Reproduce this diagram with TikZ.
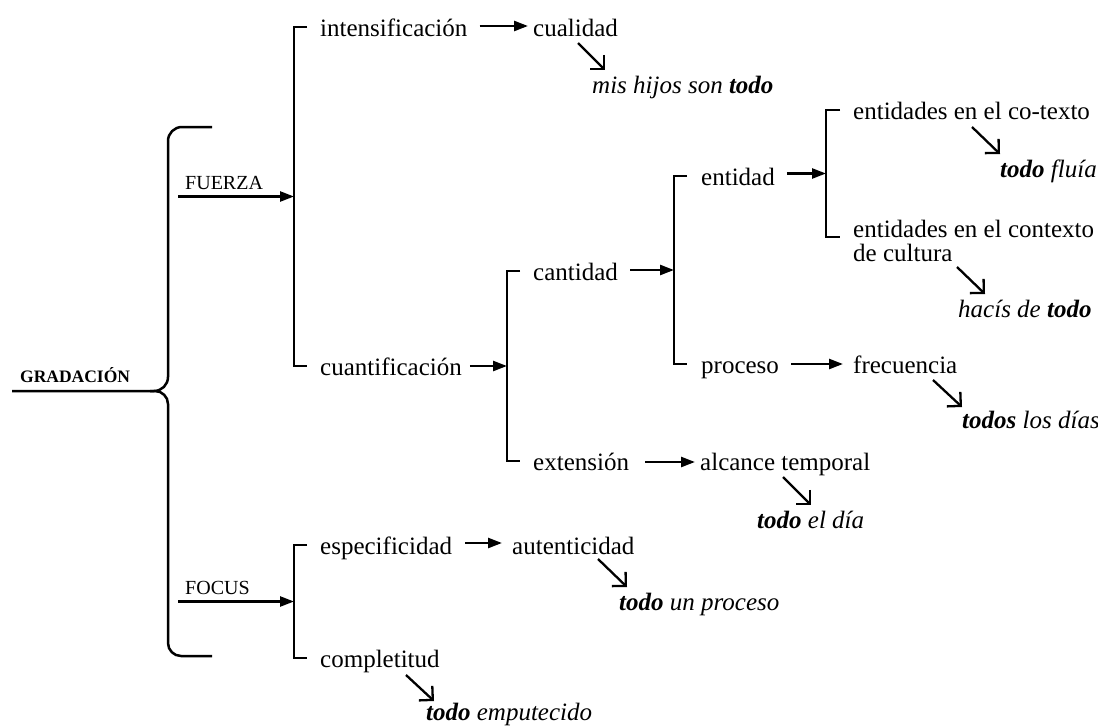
\documentclass[tikz,border=0pt]{standalone}
\usepackage{fontspec}
\setmainfont{Liberation Serif}
\usepackage{tikz}
\usetikzlibrary{arrows.meta,calc}

\tikzset{
    term/.style={anchor=base west, inner sep=0pt, font=\fontsize{25}{24}\selectfont},
    example/.style={term, font=\fontsize{25}{24}\selectfont\itshape},
    system/.style={anchor=base west, inner sep=0pt, font=\fontsize{20}{20}\selectfont},
    bracketline/.style={line width=2.5pt},
    arrowline/.style={line width=2.5pt, -{Triangle[length=14pt,width=10pt]}},
    diagline/.style={line width=2.3pt, line join=miter, -{Straight Barb[angle=90:14pt]}}
}

\begin{document}
\begin{tikzpicture}[x=1pt, y=-1pt]

\useasboundingbox (0,0) rectangle (1098,728);

% Root and main brace
\node[system, font=\fontsize{17.5}{18}\selectfont\bfseries] (gradacion) at (20,382) {GRADACIÓN};
\coordinate (braceTip) at (12,391);
\draw[bracketline, rounded corners=14pt] (212,127) -- (168,127) -- (168,391) -- (braceTip);
\draw[bracketline, rounded corners=13pt] (150,391) -- (168,391) -- (168,656) -- (212,656);

% Systems
\node[system] (fuerzaLbl) at (185,189) {FUERZA};
\node[system] (focusLbl) at (185,594) {FOCUS};

% Terms
\node[term] (intens) at (320,36) {intensificación};
\node[term] (cuant) at (320,375) {cuantificación};
\node[term] (cual) at (533,36) {cualidad};
\node[term] (cant) at (533,280) {cantidad};
\node[term] (ext) at (533,470) {extensión};
\node[term] (alc) at (700,470) {alcance temporal};
\node[term] (entidad) at (701,185) {entidad};
\node[term] (proceso) at (701,373) {proceso};
\node[term] (cotexto) at (853,119) {entidades en el co-texto};
\node[term, align=left] (contexto) at (853,261) {entidades en el contexto\\de cultura};
\node[term] (frec) at (853,373) {frecuencia};
\node[term] (espec) at (320,554) {especificidad};
\node[term] (autent) at (512,554) {autenticidad};
\node[term] (complet) at (320,667) {completitud};

% Examples
\node[example] (misHijos) at (592,93) {mis hijos son \textbf{todo}};
\node[example] (fluia) at (1000,177) {\textbf{todo} fluía};
\node[example] (hacis) at (958,317) {hacís de \textbf{todo}};
\node[example] (dias) at (962,428) {\textbf{todos} los días};
\node[example] (todoDia) at (757,528) {\textbf{todo} el día};
\node[example] (unProceso) at (619,610) {\textbf{todo} un proceso};
\node[example] (emput) at (426,720) {\textbf{todo} emputecido};

% Brackets
\coordinate (b1top) at ([shift={(-26,-9)}]intens.base west);
\coordinate (b1bot) at ([shift={(-26,-9)}]cuant.base west);
\draw[bracketline] ([shift={(-13,-9)}]intens.base west) -- (b1top) -- (b1bot) -- ([shift={(-13,-9)}]cuant.base west);
\coordinate (b1mid) at ($(b1top)!.5!(b1bot)$);

\coordinate (b2top) at ([shift={(-26,-9)}]cant.base west);
\coordinate (b2bot) at ([shift={(-26,-9)}]ext.base west);
\draw[bracketline] ([shift={(-13,-9)}]cant.base west) -- (b2top) -- (b2bot) -- ([shift={(-13,-9)}]ext.base west);
\coordinate (b2mid) at ($(b2top)!.5!(b2bot)$);

\coordinate (b3top) at ([shift={(-27,-9)}]entidad.base west);
\coordinate (b3bot) at ([shift={(-27,-9)}]proceso.base west);
\draw[bracketline] ([shift={(-14,-9)}]entidad.base west) -- (b3top) -- (b3bot) -- ([shift={(-14,-9)}]proceso.base west);
\coordinate (b3mid) at ($(b3top)!.5!(b3bot)$);

\coordinate (b4top) at ([shift={(-27,-9)}]cotexto.base west);
\coordinate (b4bot) at ([shift={(-27,-24)}]contexto.base west);
\draw[bracketline] ([shift={(-13,-9)}]cotexto.base west) -- (b4top) -- (b4bot) -- ([shift={(-13,-24)}]contexto.base west);
\coordinate (b4mid) at ($(b4top)!.5!(b4bot)$);

\coordinate (b5top) at ([shift={(-26,-9)}]espec.base west);
\coordinate (b5bot) at ([shift={(-26,-9)}]complet.base west);
\draw[bracketline] ([shift={(-13,-9)}]espec.base west) -- (b5top) -- (b5bot) -- ([shift={(-13,-9)}]complet.base west);
\coordinate (b5mid) at ($(b5top)!.5!(b5bot)$);

% Arrows between levels
\coordinate (fuerzaTail) at (178,196);
\coordinate (focusTail) at (178,601);
\draw[arrowline] (fuerzaTail |- b1mid) -- (b1mid);
\draw[arrowline] (focusTail |- b5mid) -- (b5mid);
\draw[arrowline] ([shift={(12,-10)}]intens.base east) -- ([shift={(-5,-10)}]cual.base west);
\draw[arrowline] ([xshift=8pt]cuant.base east |- b2mid) -- (b2mid);
\draw[arrowline] ([xshift=12pt]cant.base east |- b3mid) -- (b3mid);
\draw[arrowline] ([xshift=12pt]entidad.base east |- b4mid) -- (b4mid);
\draw[arrowline] ([shift={(16,-8)}]ext.base east) -- ([shift={(-5,-8)}]alc.base west);
\draw[arrowline] ([shift={(12,-9)}]proceso.base east) -- ([shift={(-10,-9)}]frec.base west);
\draw[arrowline] ([shift={(13,-11)}]espec.base east) -- ([shift={(-10,-11)}]autent.base west);

% Arrows to examples
\draw[diagline] ([shift={(45,7)}]cual.base west) -- ([shift={(13,-23)}]misHijos.base west);
\draw[diagline] ([shift={(119,8)}]cotexto.base west) -- ([shift={(0,-23)}]fluia.base west);
\draw[diagline] ([shift={(104,6)}]contexto.base west) -- ([shift={(27,-23)}]hacis.base west);
\draw[diagline] ([shift={(80,7)}]frec.base west) -- ([shift={(0,-21)}]dias.base west);
\draw[diagline] ([shift={(83,7)}]alc.base west) -- ([shift={(54,-23)}]todoDia.base west);
\draw[diagline] ([shift={(86,5)}]autent.base west) -- ([shift={(8,-23)}]unProceso.base west);
\draw[diagline] ([shift={(86,8)}]complet.base west) -- ([shift={(8,-19)}]emput.base west);

\end{tikzpicture}
\end{document}
